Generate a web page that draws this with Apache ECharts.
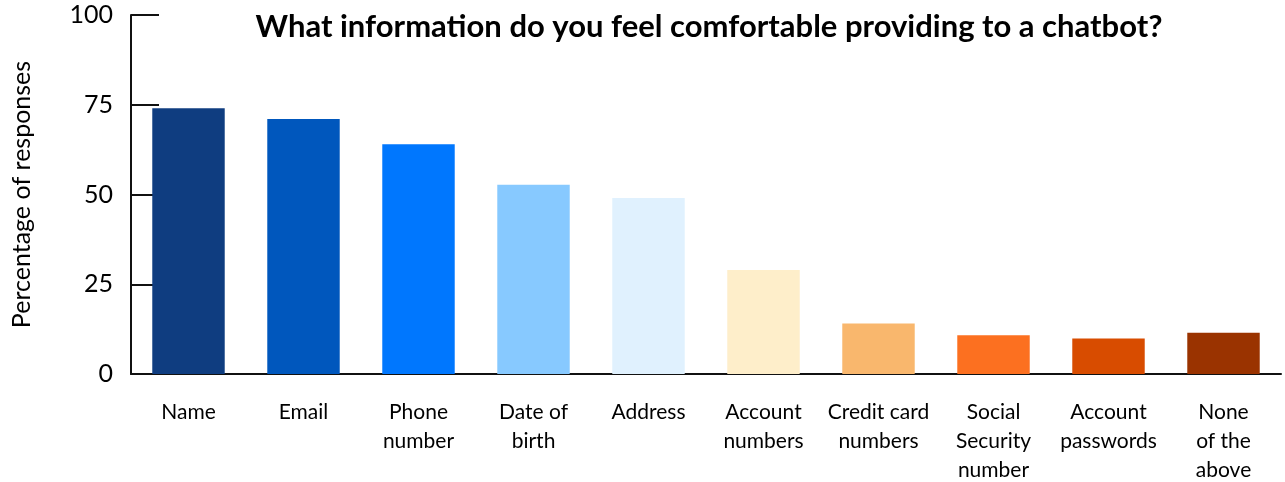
<!DOCTYPE html>
<html>
<head>
<meta charset="utf-8">
<script src="https://cdn.jsdelivr.net/npm/echarts@6/dist/echarts.min.js"></script>
<style>
  html, body { margin: 0; padding: 0; background: #fff; }
  #chart { width: 1285px; height: 482px; }
</style>
</head>
<body>
<div id="chart"></div>
<script>
// Survey answers: share of respondents comfortable sharing each item
const categories = [
  'Name', 'Email', 'Phone\nnumber', 'Date of\nbirth', 'Address',
  'Account\nnumbers', 'Credit card\nnumbers', 'Social\nSecurity\nnumber',
  'Account\npasswords', 'None\nof the\nabove'
];
const values = [74, 71, 64, 52.7, 49, 29, 14.1, 10.8, 9.9, 11.5];
const barColors = [
  '#0f3d80', '#0057bd', '#0077fe', '#87c9ff', '#e0f1fe',
  '#feeeca', '#f9b76d', '#fc7020', '#d84c00', '#9a3300'
];
const yTicks = [0, 25, 50, 75, 100];

const font = 'Lato, "Open Sans", sans-serif';

const chart = echarts.init(document.getElementById('chart'), null, { renderer: 'canvas' });
chart.setOption({
  animation: false,
  title: {
    text: 'What information do you feel comfortable providing to a chatbot?',
    left: 704,
    top: 6,
    textAlign: 'center',
    textStyle: { fontFamily: font, fontWeight: 'bold', fontSize: 31, color: '#000' }
  },
  grid: { left: 131, right: 4, top: 15, bottom: 108, outerBoundsMode: 'none' },
  xAxis: {
    type: 'category',
    data: categories,
    axisLine: { show: true, lineStyle: { color: '#111', width: 2 } },
    axisTick: { show: false },
    axisLabel: {
      interval: 0,
      margin: 24,
      fontFamily: font,
      fontSize: 21,
      lineHeight: 29,
      color: '#000',
      align: 'center'
    }
  },
  yAxis: {
    type: 'value',
    min: yTicks[0],
    max: yTicks[yTicks.length - 1],
    interval: 25,
    name: 'Percentage of responses',
    nameLocation: 'middle',
    nameGap: 97,
    nameTextStyle: { fontFamily: font, fontSize: 25, color: '#000' },
    axisLine: { show: true, lineStyle: { color: '#111', width: 2 } },
    axisTick: { show: true, inside: true, length: 28, lineStyle: { color: '#111', width: 2 } },
    axisLabel: { margin: 18, fontFamily: font, fontSize: 25, color: '#000' },
    splitLine: { show: false }
  },
  series: [{
    type: 'bar',
    barWidth: '63%',
    data: values.map((v, i) => ({ value: v, itemStyle: { color: barColors[i] } })),
    z: 1
  }]
});
</script>
</body>
</html>
